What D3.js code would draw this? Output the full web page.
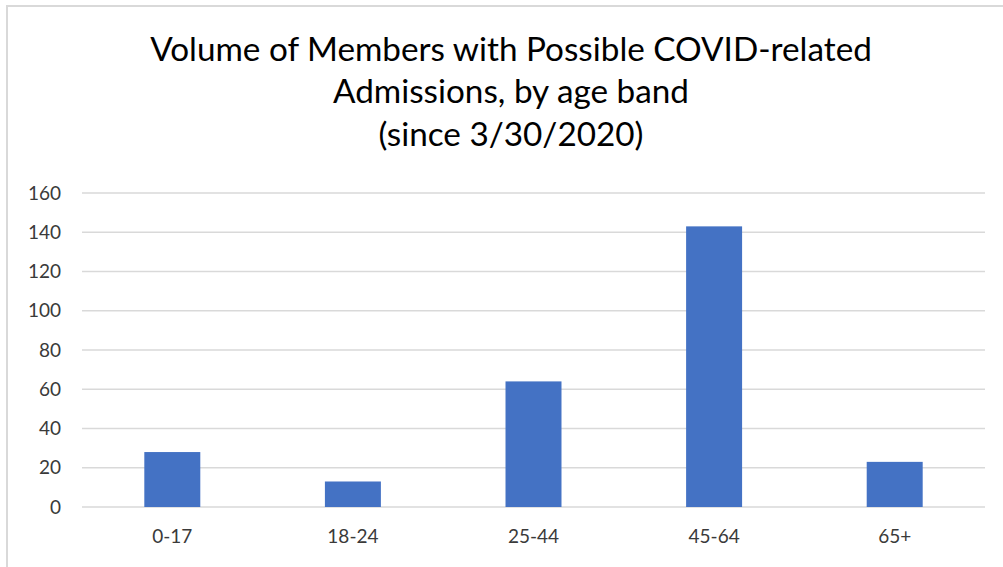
<!DOCTYPE html>
<html lang='en'>
  <head>
    <meta charset='utf-8'>
    <title>Volume of Members with Possible COVID-related Admissions</title>
    <script type='text/javascript' src='https://cdn.jsdelivr.net/npm/d3@7/dist/d3.min.js'></script>
    <style type='text/css'>
    body{
      margin: 0;
      background: #fff;
    }
    .axis text{
      font-family: Lato, 'Open Sans', sans-serif;
      font-size: 19px;
      fill: #3a3a3a;
    }
    .title{
      font-family: Lato, 'Open Sans', sans-serif;
      fill: #000;
    }
    </style>
  </head>
  <body>
    <script type='text/javascript'>

    // data
    var ageBands = ['0-17', '18-24', '25-44', '45-64', '65+'];
    var admissions = [28, 13, 64, 143, 23];
    var yTicks = [0, 20, 40, 60, 80, 100, 120, 140, 160];
    var titleLines = ['Volume of Members with Possible COVID-related',
                      'Admissions, by age band',
                      '(since 3/30/2020)'];

    var w = 1003;
    var h = 567;
    var plot = {left: 82, right: 985, top: 193, bottom: 507};

    var svg = d3.select('body')
                .append('svg')
                .attr('width', w)
                .attr('height', h);

    // chart frame
    svg.append('rect')
       .attr('x', 7)
       .attr('y', 6)
       .attr('width', w + 20)
       .attr('height', h + 20)
       .attr('fill', '#fff')
       .attr('stroke', '#d9d9d9')
       .attr('stroke-width', 2);

    var xScale = d3.scaleBand()
                   .domain(ageBands)
                   .range([plot.left, plot.right])
                   .paddingInner(0.69)
                   .paddingOuter(0.345);

    var yScale = d3.scaleLinear()
                   .domain([0, 160])
                   .range([plot.bottom, plot.top]);

    // gridlines
    svg.append('g')
       .selectAll('line')
       .data(yTicks)
       .enter()
       .append('line')
       .attr('x1', plot.left)
       .attr('x2', plot.right)
       .attr('y1', function(d){ return yScale(d); })
       .attr('y2', function(d){ return yScale(d); })
       .attr('stroke', '#d9d9d9')
       .attr('stroke-width', 1.6);

    svg.selectAll('rect.bar')
       .data(admissions)
       .enter()
       .append('rect')
       .attr('class', 'bar')
       .attr('x', function(d, i){ return xScale(ageBands[i]); })
       .attr('y', function(d){ return yScale(d); })
       .attr('width', xScale.bandwidth())
       .attr('height', function(d){ return yScale(0) - yScale(d); })
       .attr('fill', '#4472c4');

    var yAxis = d3.axisLeft(yScale)
                  .tickValues(yTicks)
                  .tickSize(0)
                  .tickPadding(21);

    var xAxis = d3.axisBottom(xScale)
                  .tickSize(0)
                  .tickPadding(23);

    svg.append('g')
       .attr('class', 'y axis')
       .attr('transform', 'translate(' + plot.left + ',0)')
       .call(yAxis)
       .call(function(g){ g.select('.domain').remove(); });

    svg.append('g')
       .attr('class', 'x axis')
       .attr('transform', 'translate(0,' + plot.bottom + ')')
       .call(xAxis)
       .call(function(g){ g.select('.domain').remove(); });

    // title, sized so the first line spans the same width as the original
    var title = svg.append('g');
    var baselines = [61, 103, 146];
    title.selectAll('text')
         .data(titleLines)
         .enter()
         .append('text')
         .attr('class', 'title')
         .attr('x', 511)
         .attr('y', function(d, i){ return baselines[i]; })
         .attr('text-anchor', 'middle')
         .style('font-size', '30px')
         .text(function(d){ return d; });

    var firstLen = title.select('text').node().getComputedTextLength();
    var fontSize = 30 * 722 / firstLen;
    title.selectAll('text').style('font-size', fontSize + 'px');

    </script>
  </body>
</html>
